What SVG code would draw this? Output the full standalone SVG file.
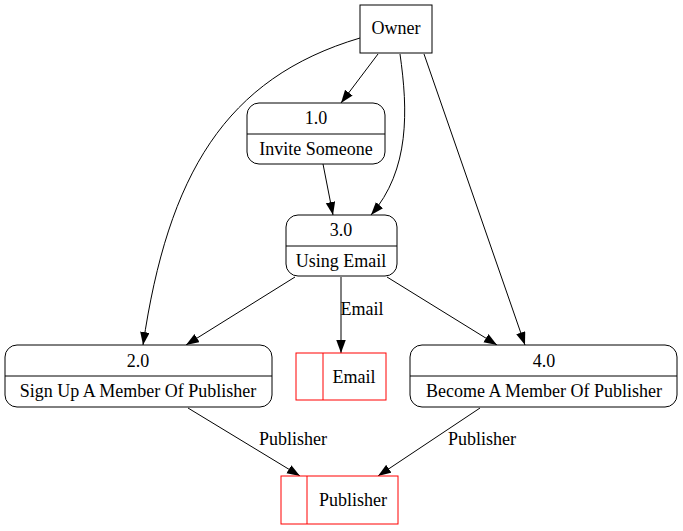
<svg xmlns="http://www.w3.org/2000/svg" width="683" height="531" viewBox="0 0 683 531">
<style>
text{font-family:"Liberation Serif","Times New Roman","DejaVu Serif",Times,serif;font-size:18px;fill:#000;text-anchor:middle}
.n{fill:#fff;stroke:#000;stroke-width:1}
.s{fill:#fff;stroke:#ff0000;stroke-width:1}
.e{fill:none;stroke:#000;stroke-width:1}
</style>
<defs>
<marker id="ah" markerUnits="userSpaceOnUse" markerWidth="14" markerHeight="10" refX="13" refY="4.75" orient="auto">
<path d="M0,0 L13,4.75 L0,9.5 z" fill="#000"/>
</marker>
</defs>
<rect width="683" height="531" fill="#fff"/>
<g id="connectors">
<path class="e" d="M378,54 L341,103" marker-end="url(#ah)"/>
<path class="e" d="M360,38 C225,78 168,175 143,345" marker-end="url(#ah)"/>
<path class="e" d="M400,54 C408,110 410,170 371,215" marker-end="url(#ah)"/>
<path class="e" d="M424,54 L525,345" marker-end="url(#ah)"/>
<path class="e" d="M323,164 L333,215" marker-end="url(#ah)"/>
<path class="e" d="M295,277 L186,345" marker-end="url(#ah)"/>
<path class="e" d="M341,277 L341,353" marker-end="url(#ah)"/>
<text x="362" y="315">Email</text>
<path class="e" d="M387,277 L497,345" marker-end="url(#ah)"/>
<path class="e" d="M188,408 L300,476" marker-end="url(#ah)"/>
<text x="293" y="445">Publisher</text>
<path class="e" d="M480,408 L378,476" marker-end="url(#ah)"/>
<text x="482" y="445">Publisher</text>
</g>
<g id="owner">
<rect class="n" x="360" y="5" width="72" height="48"/>
<text x="396" y="34">Owner</text>
</g>
<g id="p1">
<rect class="n" x="247" y="103" width="138" height="61" rx="12"/>
<line class="e" x1="247" y1="134" x2="385" y2="134"/>
<text x="316" y="124">1.0</text>
<text x="316" y="155">Invite Someone</text>
</g>
<g id="p3">
<rect class="n" x="286" y="215" width="111" height="61" rx="12"/>
<line class="e" x1="286" y1="246" x2="397" y2="246"/>
<text x="341" y="236">3.0</text>
<text x="341" y="267">Using Email</text>
</g>
<g id="p2">
<rect class="n" x="5" y="345" width="267" height="62" rx="12"/>
<line class="e" x1="5" y1="376" x2="272" y2="376"/>
<text x="138" y="367">2.0</text>
<text x="138" y="397">Sign Up A Member Of Publisher</text>
</g>
<g id="p4">
<rect class="n" x="410" y="345" width="267" height="62" rx="12"/>
<line class="e" x1="410" y1="376" x2="677" y2="376"/>
<text x="544" y="367">4.0</text>
<text x="544" y="397">Become A Member Of Publisher</text>
</g>
<g id="email">
<rect class="s" x="296" y="353" width="90" height="47"/>
<line class="s" x1="323" y1="353" x2="323" y2="400"/>
<text x="354" y="383">Email</text>
</g>
<g id="publisher">
<rect class="s" x="281" y="476" width="117" height="48"/>
<line class="s" x1="307" y1="476" x2="307" y2="524"/>
<text x="353" y="506">Publisher</text>
</g>
</svg>
